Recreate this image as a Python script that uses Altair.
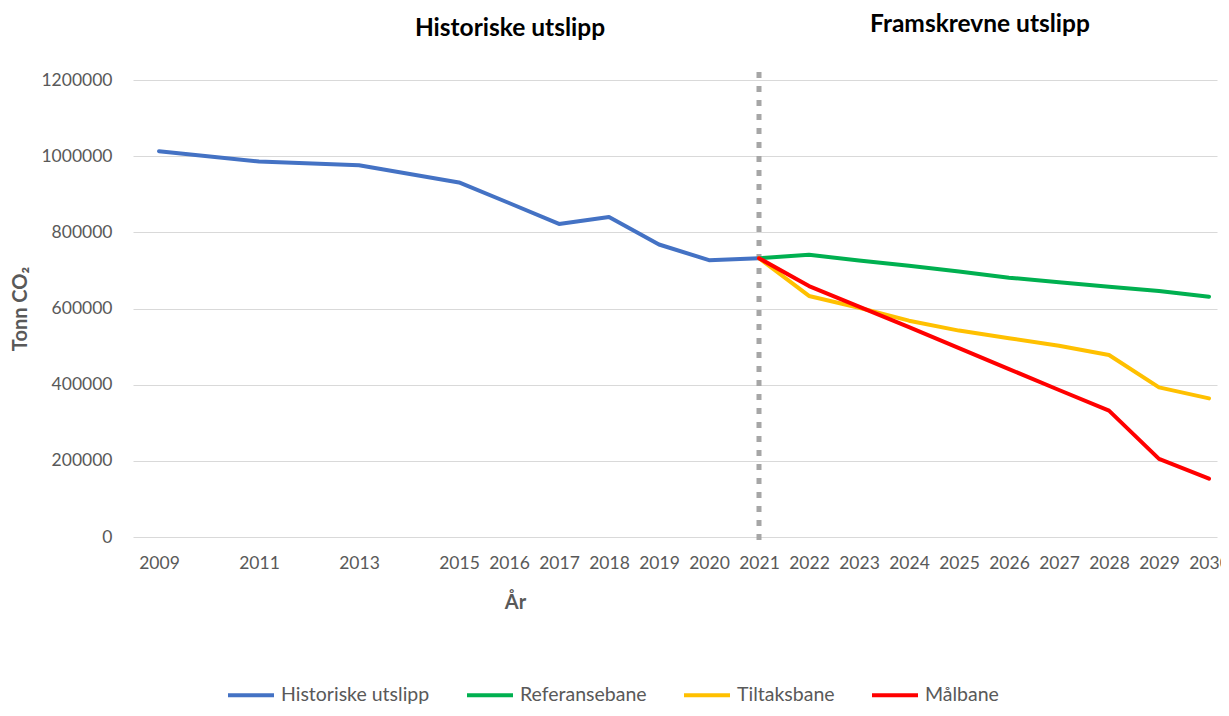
import altair as alt
import pandas as pd

# ---- data ----
hist_years = [2009, 2011, 2013, 2015, 2016, 2017, 2018, 2019, 2020, 2021]
hist_values = [1013000, 986000, 976000, 931000, 877000, 822000, 840000, 768000, 727000, 732000]

proj_years = [2021, 2022, 2023, 2024, 2025, 2026, 2027, 2028, 2029, 2030]
ref_values = [732000, 741000, 726000, 712000, 697000, 681000, 669000, 657000, 646000, 631000]
tiltak_values = [732000, 633000, 602000, 568000, 542000, 522000, 502000, 478000, 393000, 364000]
mal_values = [732000, 659000, 605000, 551000, 496000, 441000, 386000, 332000, 205000, 153000]

series_names = ["Historiske utslipp", "Referansebane", "Tiltaksbane", "Målbane"]
series_colors = ["#4472C4", "#00B050", "#FFC000", "#FF0000"]

tick_years = [2009, 2011, 2013, 2015, 2016, 2017, 2018, 2019, 2020, 2021,
              2022, 2023, 2024, 2025, 2026, 2027, 2028, 2029, 2030]
y_ticks = [0, 200000, 400000, 600000, 800000, 1000000, 1200000]

divider_year = 2021
header_texts = ["Historiske utslipp", "Framskrevne utslipp"]
header_x = [2016.02, 2025.42]
header_y = [1334000, 1345000]

# ---- tables ----
rows = []
for yr, v in zip(hist_years, hist_values):
    rows.append({"year": yr, "value": v, "series": series_names[0]})
for name, vals in zip(series_names[1:], [ref_values, tiltak_values, mal_values]):
    for yr, v in zip(proj_years, vals):
        rows.append({"year": yr, "value": v, "series": name})
df = pd.DataFrame(rows)

rule_df = pd.DataFrame({"year": [divider_year], "value": [-8000], "value2": [1224000]})
head_df = pd.DataFrame({"year": header_x, "value": header_y, "label": header_texts})

FONT = "Lato"
GRAY = "#595959"

x_scale = alt.Scale(domain=[2008.48, 2030.16], nice=False, zero=False)
y_scale = alt.Scale(domain=[0, 1200000], nice=False)

x_axis = alt.Axis(values=tick_years, format="d", title="År", grid=False, domain=False, ticks=False,
                  labelFont=FONT, labelFontSize=17.5, labelColor=GRAY, labelPadding=17,
                  labelOverlap=False, labelFlush=False,
                  titleFont=FONT, titleFontSize=20, titleFontWeight="bold", titleColor=GRAY,
                  titleX=382, titlePadding=21)
y_axis = alt.Axis(values=y_ticks, format="d", title="Tonn CO₂", grid=True, gridColor="#D9D9D9",
                  gridWidth=1, domain=False, ticks=False,
                  labelFont=FONT, labelFontSize=17.5, labelColor=GRAY, labelPadding=21,
                  titleFont=FONT, titleFontSize=20, titleFontWeight="bold", titleColor=GRAY,
                  titlePadding=10)

rule = alt.Chart(rule_df).mark_rule(color="#A6A6A6", strokeWidth=5, strokeDash=[6, 8]).encode(
    x=alt.X("year:Q", scale=x_scale, axis=x_axis),
    y=alt.Y("value:Q", scale=y_scale, axis=y_axis),
    y2="value2:Q",
)

lines = alt.Chart(df).mark_line(strokeWidth=4, strokeJoin="round", strokeCap="round").encode(
    x=alt.X("year:Q", scale=x_scale, axis=x_axis),
    y=alt.Y("value:Q", scale=y_scale, axis=y_axis),
    color=alt.Color("series:N", scale=alt.Scale(domain=series_names, range=series_colors),
                    sort=series_names,
                    legend=alt.Legend(title=None, orient="none", direction="horizontal",
                                      legendX=93, legendY=590, symbolType="stroke",
                                      symbolSize=2116, symbolStrokeWidth=4,
                                      labelFont=FONT, labelFontSize=19.5, labelColor=GRAY,
                                      labelOffset=5, columnPadding=29)),
)

heads = alt.Chart(head_df).mark_text(font=FONT, fontSize=24.5, fontWeight="bold", color="#000000",
                                     align="center", baseline="middle").encode(
    x=alt.X("year:Q", scale=x_scale, axis=x_axis),
    y=alt.Y("value:Q", scale=y_scale, axis=y_axis),
    text="label:N",
)

chart = alt.layer(rule, lines, heads).properties(
    width=1084, height=457,
    autosize=alt.AutoSizeParams(type="none"),
    padding={"left": 125, "top": 72, "right": 4, "bottom": 169},
).configure_view(stroke=None)

chart.save("out.html", embed_options={"renderer": "svg", "actions": False})
